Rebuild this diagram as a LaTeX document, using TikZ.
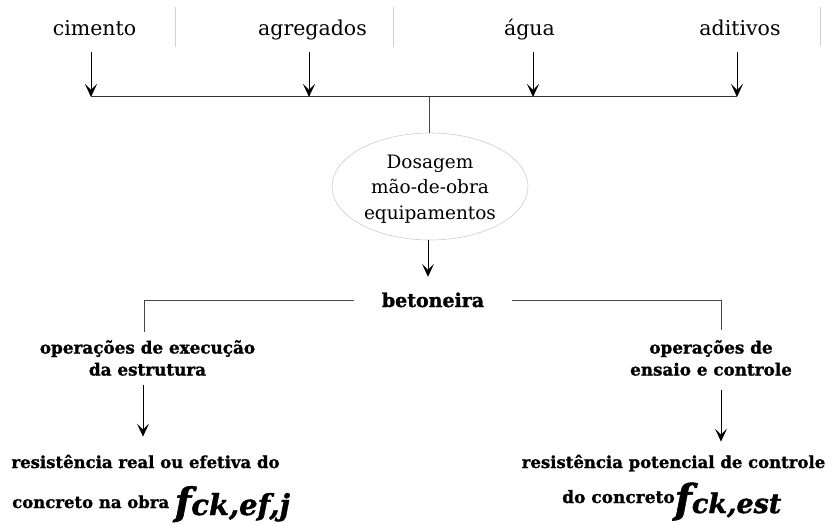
\documentclass[tikz,border=0pt]{standalone}
\usepackage{fontspec}
\setmainfont{DejaVu Serif}[BoldFeatures={FakeBold=1.3},BoldItalicFeatures={FakeBold=1.3}]
\usetikzlibrary{arrows.meta,shapes.geometric}
\begin{document}
\begin{tikzpicture}[x=1pt,y=-1pt,
  lbl/.style={font=\fontsize{20.5}{24}\selectfont, anchor=base, inner sep=0pt, text height=15pt, text depth=5pt},
  sepline/.style={draw=black!18, line width=0.8pt},
  arr/.style={-{Stealth[length=13pt,width=12pt,inset=6pt]}, line width=1pt, black},
  bus/.style={draw=black!80, line width=1pt},
  conn/.style={draw=black!72, line width=1pt},
  bt/.style={font=\bfseries\fontsize{16.8}{22}\selectfont, align=center, inner sep=0pt},
  rt/.style={font=\bfseries\fontsize{16.5}{20}\selectfont, inner sep=0pt}
]
\useasboundingbox (0,0) rectangle (835,524);

% separators
\draw[sepline] (175,7) -- (175,47);
\draw[sepline] (393,7) -- (393,47);
\draw[sepline] (820,7) -- (820,46);

% top labels
\node[lbl] (cim) at (94.5,36) {cimento};
\node[lbl] (agr) at (312.5,36) {agregados};
\node[lbl] (agu) at (529.5,36) {água};
\node[lbl] (adi) at (740,36) {aditivos};

% bus points
\coordinate (b1) at (91,97);
\coordinate (b2) at (309,97);
\coordinate (b3) at (533,97);
\coordinate (b4) at (737,97);
\coordinate (bm) at (429,97);

\draw[arr] ([yshift=-11pt]cim.south -| b1) -- (b1);
\draw[arr] ([yshift=-11pt]agr.south -| b2) -- (b2);
\draw[arr] ([yshift=-11pt]agu.south -| b3) -- (b3);
\draw[arr] ([yshift=-11pt]adi.south -| b4) -- (b4);
\draw[bus] (b1) -- (b4);

% ellipse
\node[ellipse, draw=black!20, line width=0.6pt, minimum width=196pt, minimum height=107pt,
  inner sep=0pt] (dos) at (430,186.5) {};
\node[align=center, inner sep=0pt, font=\fontsize{18.5}{25.5}\selectfont] (dost) at (430,189)
  {Dosagem\\mão-de-obra\\equipamentos};
\draw[conn] (bm) -- (bm |- dos.north);

% betoneira
\node[font=\bfseries\fontsize{19}{22}\selectfont, text height=14pt, text depth=0pt,
  inner xsep=28pt, inner ysep=16pt] (bet) at (433,300) {betoneira};
\draw[arr] (dos.south -| 428,0) -- (bet.north -| 428,0);

% branches
\coordinate (k1) at (144,332);
\coordinate (k2) at (721,330);
\draw[conn] (bet.west) -| (k1);
\draw[conn] (bet.east) -| (k2);

\node[bt] (op1) at (147.5,358) {operações de execução\\da estrutura};
\node[bt] (op2) at (711,358) {operações de\\ensaio e controle};

\coordinate (a1) at (143,385);
\coordinate (a2) at (721,390);
\node[rt, anchor=base] (res1) at (145.5,468) {resistência real ou efetiva do};
\node[rt, anchor=base] (res2) at (673.5,468) {resistência potencial de controle};
\draw[arr] (a1) -- ([yshift=18pt]res1.north -| a1);
\draw[arr] (a2) -- ([yshift=13pt]res2.north -| a2);

% formulas
\node[anchor=base west, inner sep=0pt] (fl) at (12,508)
  {\bfseries\fontsize{16.5}{20}\selectfont concreto na obra
   \raisebox{-7pt}{\itshape\fontsize{38}{38}\selectfont f\fontsize{29}{29}\selectfont ck,ef,j}};
\node[anchor=base west, inner sep=0pt] (fr) at (562,503)
  {\bfseries\fontsize{17}{20}\selectfont do concreto\raisebox{-10pt}{\itshape\fontsize{40}{40}\selectfont f\fontsize{27}{27}\selectfont ck,est}};
\end{tikzpicture}
\end{document}
